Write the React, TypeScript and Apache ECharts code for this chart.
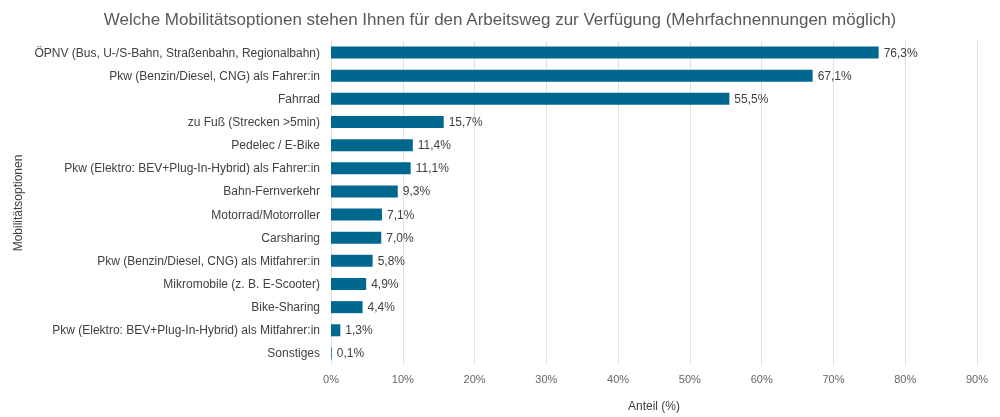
import React, { useEffect, useRef } from "react";
import * as echarts from "echarts";

const categories = [
  "ÖPNV (Bus, U-/S-Bahn, Straßenbahn, Regionalbahn)",
  "Pkw (Benzin/Diesel, CNG) als Fahrer:in",
  "Fahrrad",
  "zu Fuß (Strecken >5min)",
  "Pedelec / E-Bike",
  "Pkw (Elektro: BEV+Plug-In-Hybrid) als Fahrer:in",
  "Bahn-Fernverkehr",
  "Motorrad/Motorroller",
  "Carsharing",
  "Pkw (Benzin/Diesel, CNG) als Mitfahrer:in",
  "Mikromobile (z. B. E-Scooter)",
  "Bike-Sharing",
  "Pkw (Elektro: BEV+Plug-In-Hybrid) als Mitfahrer:in",
  "Sonstiges",
];
const values = [76.3, 67.1, 55.5, 15.7, 11.4, 11.1, 9.3, 7.1, 7.0, 5.8, 4.9, 4.4, 1.3, 0.1];
const xTicks = [0, 10, 20, 30, 40, 50, 60, 70, 80, 90];

const title = "Welche Mobilitätsoptionen stehen Ihnen für den Arbeitsweg zur Verfügung (Mehrfachnennungen möglich)";

export default function App() {
  const ref = useRef<HTMLDivElement>(null);
  useEffect(() => {
    if (!ref.current) return;
    const chart = echarts.init(ref.current, undefined, { renderer: "svg" });
    const font = "'Liberation Sans', Arial, sans-serif";
    chart.setOption({
      animation: false,
      textStyle: { fontFamily: font },
      title: {
        text: title,
        left: "center",
        top: 6,
        textStyle: { fontSize: 17, fontWeight: "normal", color: "#595959", fontFamily: font },
      },
      grid: { left: 331, right: 23, top: 41, bottom: 47, containLabel: false },
      xAxis: {
        type: "value",
        min: xTicks[0],
        max: xTicks[xTicks.length - 1],
        interval: 10,
        name: "Anteil (%)",
        nameLocation: "middle",
        nameGap: 35,
        nameTextStyle: { fontSize: 12, color: "#404040", fontFamily: font },
        axisLine: { show: false },
        axisTick: { show: false },
        axisLabel: { formatter: "{value}%", color: "#666666", fontSize: 11, margin: 8, fontFamily: font },
        splitLine: { show: true, lineStyle: { color: "#e0e0e0", width: 1 } },
      },
      yAxis: {
        type: "category",
        data: categories,
        inverse: true,
        name: "Mobilitätsoptionen",
        nameLocation: "middle",
        nameGap: 300,
        nameTextStyle: { fontSize: 12, color: "#404040", fontFamily: font },
        axisLine: { show: false },
        axisTick: { show: false },
        axisLabel: { color: "#404040", fontSize: 12, margin: 11, fontFamily: font },
      },
      series: [
        {
          type: "bar",
          data: values,
          barCategoryGap: "48%",
          itemStyle: { color: "#00688e" },
          label: {
            show: true,
            position: "right",
            distance: 5,
            color: "#404040",
            fontSize: 12,
            fontFamily: font,
            formatter: (p: any) => p.value.toFixed(1).replace(".", ",") + "%",
          },
        },
      ],
    });
    return () => chart.dispose();
  }, []);
  return <div ref={ref} style={{ position: "fixed", left: 0, top: 0, width: 1000, height: 417 }} />;
}
